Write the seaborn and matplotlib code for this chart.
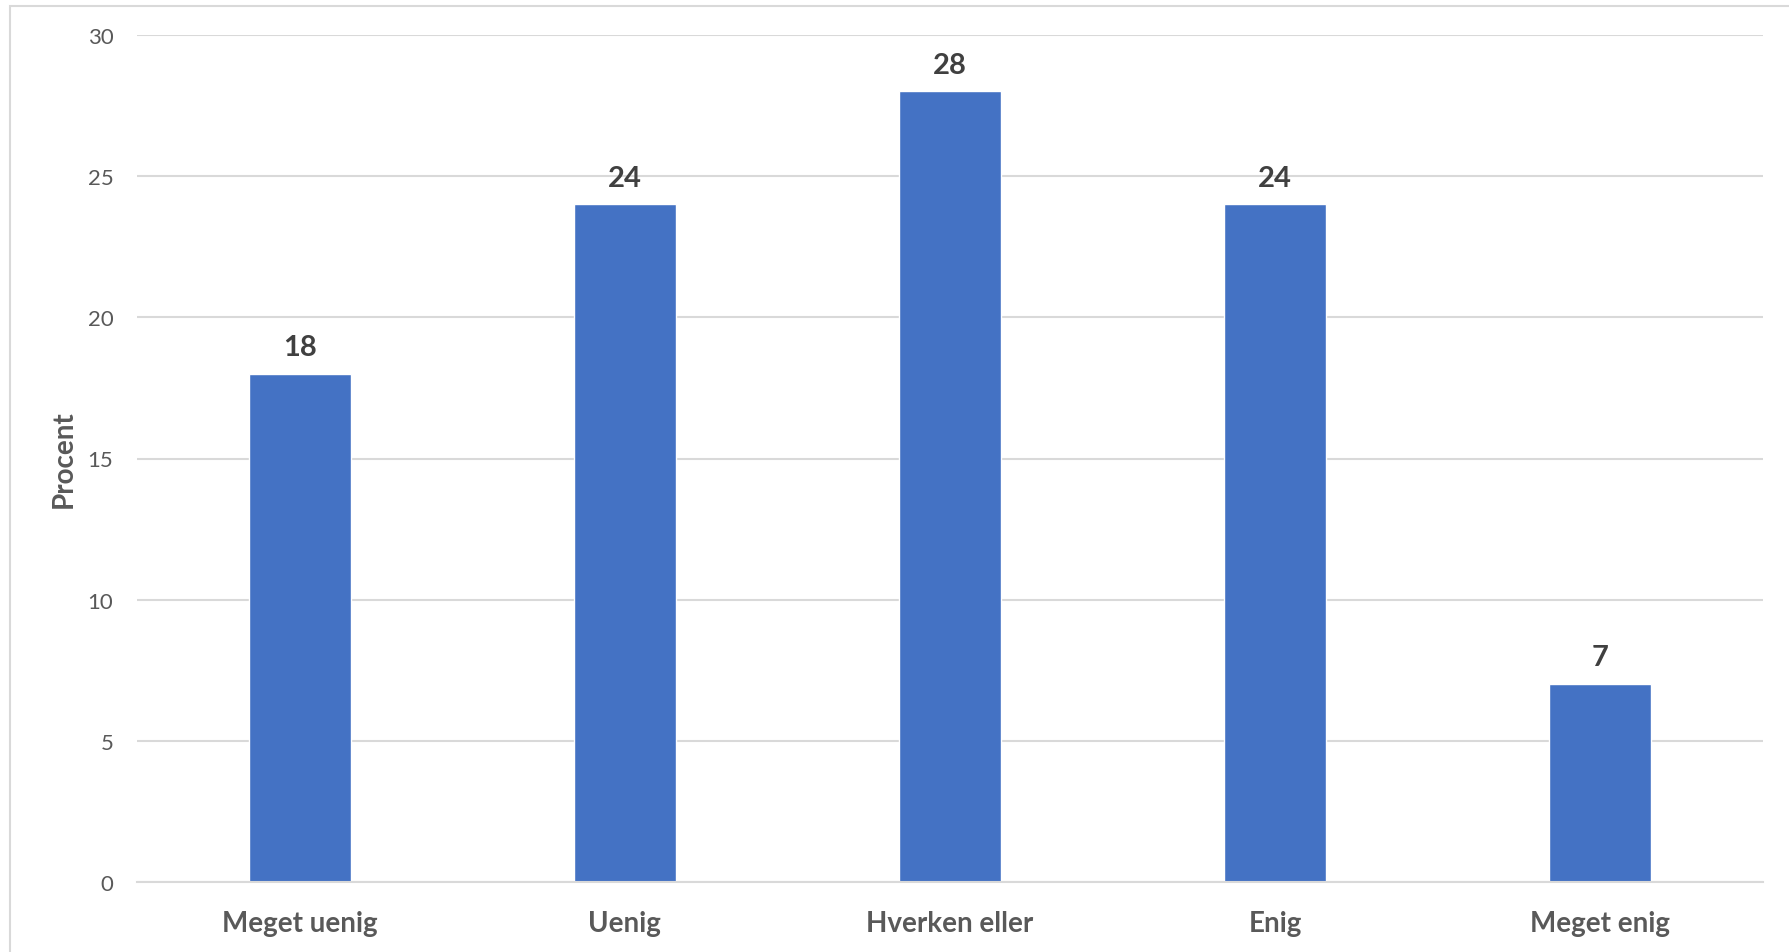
import matplotlib
matplotlib.use("Agg")
import matplotlib.pyplot as plt
import seaborn as sns
import pandas as pd
from matplotlib.patches import Rectangle

# data
categories = ["Meget uenig", "Uenig", "Hverken eller", "Enig", "Meget enig"]
procent = [18, 24, 28, 24, 7]
y_ticks = [0, 5, 10, 15, 20, 25, 30]

df = pd.DataFrame({"svar": categories, "procent": procent})

sns.set_theme(style="white")
plt.rcParams["font.family"] = ["Lato", "DejaVu Sans"]

bar_color = "#4472C4"
grid_color = "#D9D9D9"
tick_color = "#595959"
label_color = "#404040"

fig = plt.figure(figsize=(17.89, 9.53), dpi=100)
ax = fig.add_axes([137 / 1789, 70 / 953, 1626 / 1789, 847 / 953])

sns.barplot(data=df, x="svar", y="procent", color=bar_color, width=0.314,
            saturation=1, ax=ax)

ax.set_ylim(0, 30)
ax.set_yticks(y_ticks)
ax.set_xlim(-0.5, len(categories) - 0.5)
ax.yaxis.grid(True, color=grid_color, linewidth=1.5)
ax.set_axisbelow(True)
for s in ["top", "right", "left"]:
    ax.spines[s].set_visible(False)
ax.spines["bottom"].set_color(grid_color)
ax.spines["bottom"].set_linewidth(1.5)

ax.tick_params(axis="y", length=0, pad=17, labelsize=16, labelcolor=tick_color)
ax.tick_params(axis="x", length=0, pad=20, labelsize=20, labelcolor=tick_color)
for t in ax.get_xticklabels():
    t.set_fontweight("bold")

ax.set_xlabel("")
ax.set_ylabel("Procent", fontsize=20, fontweight="bold", color=tick_color, labelpad=8)

for i, v in enumerate(procent):
    ax.annotate(str(v), (i, v), xytext=(0, 10), textcoords="offset points",
                ha="center", va="bottom", fontsize=21, fontweight="bold",
                color=label_color)

# outer chart border
fig.patches.append(Rectangle((10 / 1789, -0.1), 1.2, 0.1 + 946 / 953,
                             transform=fig.transFigure, fill=False,
                             edgecolor=grid_color, linewidth=1.5))

fig.savefig("out.png", dpi=100, facecolor="white")
